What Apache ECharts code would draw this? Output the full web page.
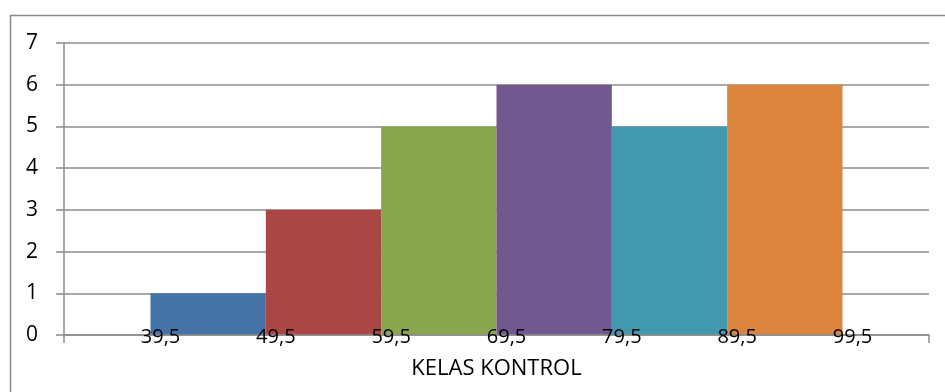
<!DOCTYPE html>
<html>
<head>
<meta charset="utf-8">
<script src="https://cdn.jsdelivr.net/npm/echarts@6/dist/echarts.min.js"></script>
<style>html,body{margin:0;padding:0;background:#fff}#c{width:945px;height:392px}</style>
</head>
<body>
<div id="c"></div>
<script>
const binStart = [39.5, 49.5, 59.5, 69.5, 79.5, 89.5];
const binEnd = [49.5, 59.5, 69.5, 79.5, 89.5, 99.5];
const frequencies = [1, 3, 5, 6, 5, 6];
const barColors = ['#4572A7', '#AA4643', '#89A54E', '#71588F', '#4198AF', '#DB843D'];
const xTickValues = [39.5, 49.5, 59.5, 69.5, 79.5, 89.5, 99.5];
const xTickLabels = ['39,5', '49,5', '59,5', '69,5', '79,5', '89,5', '99,5'];
const xAxisTitle = 'KELAS KONTROL';

const FONT = 'Open Sans';
const chart = echarts.init(document.getElementById('c'), null, {renderer: 'canvas'});
chart.setOption({
  animation: false,
  textStyle: {fontFamily: FONT},
  graphic: [{
    type: 'rect', left: 8, top: 13, z: -10,
    shape: {width: 960, height: 420},
    style: {fill: 'none', stroke: '#8c8c8c', lineWidth: 1.5}
  }],
  grid: {left: 64, right: 16, top: 43, bottom: 57, containLabel: false},
  xAxis: {
    type: 'value', min: 32, max: 107, z: 10,
    splitLine: {show: false},
    axisLine: {lineStyle: {color: '#8c8c8c', width: 1.5}},
    axisTick: {show: true, customValues: [32, 107], length: 8, lineStyle: {color: '#8c8c8c', width: 1.5}},
    axisLabel: {
      customValues: xTickValues,
      formatter: v => xTickLabels[xTickValues.indexOf(v)],
      color: '#000', fontSize: 20, fontFamily: FONT, margin: -8,
      padding: [0, 0, 0, 20]
    },
    name: xAxisTitle, nameLocation: 'middle', nameGap: 23,
    nameTextStyle: {color: '#000', fontSize: 22, fontFamily: FONT}
  },
  yAxis: {
    type: 'value', min: 0, max: 7, interval: 1,
    axisLine: {show: true, lineStyle: {color: '#8c8c8c', width: 1.5}},
    axisTick: {show: true, length: 8, lineStyle: {color: '#8c8c8c', width: 1.5}},
    splitLine: {show: true, lineStyle: {color: '#8c8c8c', width: 1.5}},
    axisLabel: {color: '#000', fontSize: 21, fontFamily: FONT, margin: 26}
  },
  series: [{
    type: 'custom',
    data: binStart.map((s, i) => [s, binEnd[i], frequencies[i]]),
    encode: {x: [0, 1], y: 2},
    renderItem: function (params, api) {
      const p0 = api.coord([api.value(0), api.value(2)]);
      const p1 = api.coord([api.value(1), 0]);
      return {
        type: 'rect',
        shape: {x: p0[0], y: p0[1], width: p1[0] - p0[0], height: p1[1] - p0[1]},
        style: {fill: barColors[params.dataIndex]}
      };
    }
  }]
});
</script>
</body>
</html>
